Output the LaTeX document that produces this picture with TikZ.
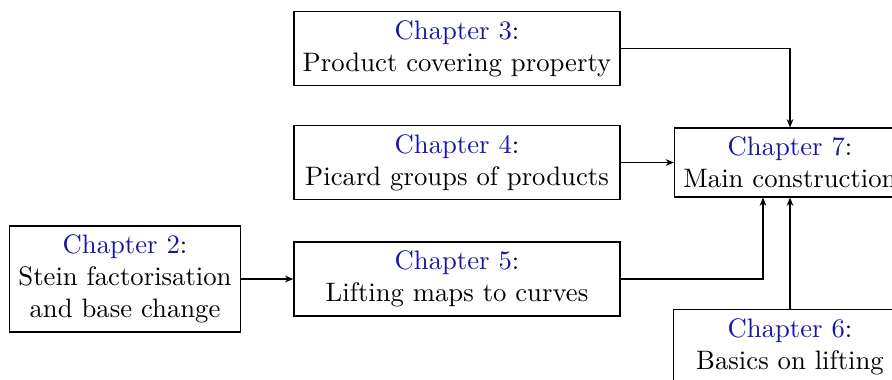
\documentclass[tikz,border=0pt]{standalone}
\usetikzlibrary{arrows.meta,calc}
\definecolor{chapblue}{RGB}{22,22,165}
\newcommand{\chap}[1]{\textcolor{chapblue}{Chapter #1}:}
\begin{document}
\begin{tikzpicture}[x=0.3846pt,y=-0.3846pt,
  chbox/.style={draw,align=center,inner sep=3.4pt,line width=0.5pt,
    font=\fontsize{10.27}{12.33}\selectfont},
  wide/.style={minimum width=125.4pt},
  arr/.style={-{Stealth[length=3.2pt,width=2.6pt]},line width=0.45pt}]
\useasboundingbox (0,0) rectangle (892,379);
\clip (0,0) rectangle (892,379);
\node[chbox,wide] (ch3) at (457,48.5) {\chap{3}\\Product covering property};
\node[chbox,wide] (ch4) at (457,162.5) {\chap{4}\\Picard groups of products};
\node[chbox,wide] (ch5) at (457,279) {\chap{5}\\Lifting maps to curves};
\node[chbox] (ch2) at (125,279) {\chap{2}\\Stein factorisation\\and base change};
\node[chbox] (ch7) at (790,162.5) {\chap{7}\\Main construction};
\node[chbox,anchor=north,minimum width=89.5pt] (ch6) at (790,309) {\chap{6}\\Basics on lifting};
\coordinate (c5in) at ($(ch7.south)+(-27,0)$);
\draw[arr] (ch3.east) -| (ch7.north);
\draw[arr] (ch4.east) -- (ch7.west);
\draw[arr] (ch5.east) -| (c5in);
\draw[arr] (ch6.north) -- (ch7.south);
\draw[arr] (ch2.east) -- (ch5.west);
\end{tikzpicture}
\end{document}
